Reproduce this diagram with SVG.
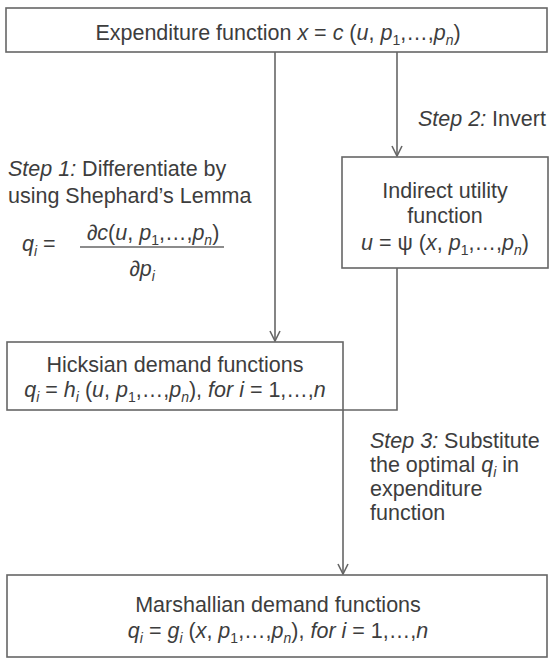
<svg xmlns="http://www.w3.org/2000/svg" width="550" height="659" viewBox="0 0 550 659">
<defs>
<style>
.box{fill:#fff;stroke:#666;stroke-width:1.6}
.t{font-family:"Liberation Sans",Arial,sans-serif;font-size:21.5px;fill:#3d3d3d}
.i{font-style:italic}
.s{font-size:14px}
.c{text-anchor:middle}
.ln{fill:none;stroke:#666;stroke-width:1.6}
</style>
<marker id="arr" viewBox="0 0 12 12" refX="11" refY="6" markerWidth="12" markerHeight="12" markerUnits="userSpaceOnUse" orient="auto">
<path d="M1,1 L11,6 L1,11" fill="none" stroke="#666" stroke-width="1.6"/>
</marker>
</defs>
<rect width="550" height="659" fill="#fff"/>
<g id="connectors">
<line class="ln" x1="275" y1="52" x2="275" y2="341" marker-end="url(#arr)"/>
<line class="ln" x1="397" y1="52" x2="397" y2="156" marker-end="url(#arr)"/>
<path class="ln" d="M397,268 V410 H343 V574" marker-end="url(#arr)"/>
</g>
<g id="expenditure">
<rect class="box" x="6" y="8" width="541" height="44"/>
<text class="t c" x="278" y="40">Expenditure function <tspan class="i">x</tspan> = <tspan class="i">c</tspan> (<tspan class="i">u</tspan>, <tspan class="i">p</tspan><tspan class="s" dy="5">1</tspan><tspan dy="-5">,…,</tspan><tspan class="i">p</tspan><tspan class="s i" dy="5">n</tspan><tspan dy="-5">)</tspan></text>
</g>
<g id="step2">
<text class="t" x="418" y="126"><tspan class="i">Step 2:</tspan> Invert</text>
</g>
<g id="step1">
<text class="t" x="8" y="176"><tspan class="i">Step 1:</tspan> Differentiate by</text>
<text class="t" x="8" y="203">using Shephard’s Lemma</text>
<text class="t" x="22" y="251"><tspan class="i">q</tspan><tspan class="s i" dy="5">i</tspan><tspan dy="-5"> =</tspan></text>
<text class="t c" x="153" y="240"><tspan class="i">∂c</tspan>(<tspan class="i">u</tspan>, <tspan class="i">p</tspan><tspan class="s" dy="5">1</tspan><tspan dy="-5">,…,</tspan><tspan class="i">p</tspan><tspan class="s i" dy="5">n</tspan><tspan dy="-5">)</tspan></text>
<line class="ln" x1="80" y1="247" x2="224" y2="247" stroke-width="1.3"/>
<text class="t c" x="142" y="276"><tspan class="i">∂p</tspan><tspan class="s i" dy="5">i</tspan></text>
</g>
<g id="indirect">
<rect class="box" x="342" y="157" width="206" height="111"/>
<text class="t c" x="445" y="198">Indirect utility</text>
<text class="t c" x="445" y="223">function</text>
<text class="t c" x="445" y="250"><tspan class="i">u</tspan> = ψ (<tspan class="i">x</tspan>, <tspan class="i">p</tspan><tspan class="s" dy="5">1</tspan><tspan dy="-5">,…,</tspan><tspan class="i">p</tspan><tspan class="s i" dy="5">n</tspan><tspan dy="-5">)</tspan></text>
</g>
<g id="hicksian">
<rect class="box" x="7" y="342" width="336" height="68"/>
<text class="t c" x="175" y="372">Hicksian demand functions</text>
<text class="t c" x="175" y="397"><tspan class="i">q</tspan><tspan class="s i" dy="5">i</tspan><tspan dy="-5"> = </tspan><tspan class="i">h</tspan><tspan class="s i" dy="5">i</tspan><tspan dy="-5"> (</tspan><tspan class="i">u</tspan>, <tspan class="i">p</tspan><tspan class="s" dy="5">1</tspan><tspan dy="-5">,…,</tspan><tspan class="i">p</tspan><tspan class="s i" dy="5">n</tspan><tspan dy="-5">), </tspan><tspan class="i">for i</tspan> = 1,…,<tspan class="i">n</tspan></text>
</g>
<g id="step3">
<text class="t" x="370" y="448"><tspan class="i">Step 3:</tspan> Substitute</text>
<text class="t" x="370" y="472">the optimal <tspan class="i">q</tspan><tspan class="s i" dy="5">i</tspan><tspan dy="-5"> in</tspan></text>
<text class="t" x="370" y="496">expenditure</text>
<text class="t" x="370" y="520">function</text>
</g>
<g id="marshallian">
<rect class="box" x="7" y="575" width="540" height="82"/>
<text class="t c" x="278" y="612">Marshallian demand functions</text>
<text class="t c" x="278" y="638"><tspan class="i">q</tspan><tspan class="s i" dy="5">i</tspan><tspan dy="-5"> = </tspan><tspan class="i">g</tspan><tspan class="s i" dy="5">i</tspan><tspan dy="-5"> (</tspan><tspan class="i">x</tspan>, <tspan class="i">p</tspan><tspan class="s" dy="5">1</tspan><tspan dy="-5">,…,</tspan><tspan class="i">p</tspan><tspan class="s i" dy="5">n</tspan><tspan dy="-5">), </tspan><tspan class="i">for i</tspan> = 1,…,<tspan class="i">n</tspan></text>
</g>
</svg>
